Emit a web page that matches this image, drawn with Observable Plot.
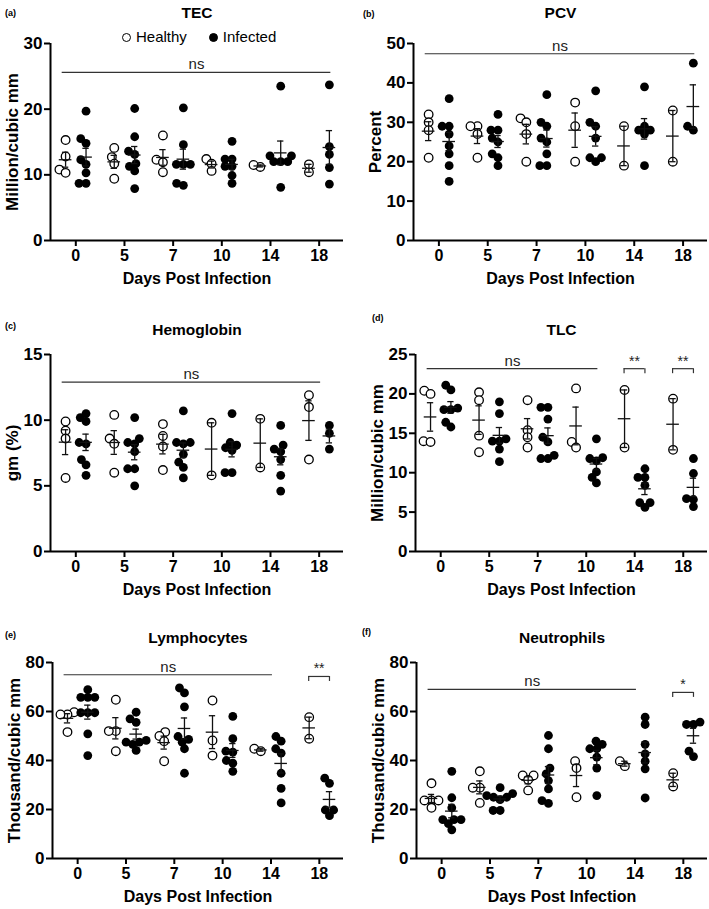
<!DOCTYPE html>
<html>
<head>
<meta charset="utf-8">
<script src="https://cdn.jsdelivr.net/npm/d3@7"></script>
<script src="https://cdn.jsdelivr.net/npm/@observablehq/plot@0.6"></script>
<style>
  html, body { margin: 0; padding: 0; background: #fff; }
  #wrap { position: relative; width: 709px; height: 909px; font-family: "Liberation Sans", Arial, sans-serif; color: #000; }
  .panel { position: absolute; }
  .plabel { position: absolute; font-size: 9px; font-weight: bold; line-height: 12px; }
  .legend { position: absolute; font-size: 15px; line-height: 18px; display: flex; align-items: center; white-space: nowrap; }
  .sym { display: inline-block; width: 7px; height: 7px; border-radius: 50%; border: 1.3px solid #000; box-sizing: content-box; }
</style>
</head>
<body>
<div id="wrap"></div>
<script>
// ---------------- data ----------------
const days = ["0", "5", "7", "10", "14", "18"];
const groups = ["Healthy", "Infected"];

const tecHealthy = [[15.3,12.8,10.8,10.3],[14.1,12.7,11.7,9.4],[16.0,12.3,11.9,10.4],[12.4,11.7,10.6],[11.2,11.5],[10.4,11.6]];
const tecInfected = [[19.7,15.5,14.8,12.3,11.6,10.3,8.7,8.7],[20.1,15.8,13.6,13.1,11.7,11.3,10.6,7.9],[20.2,14.6,11.6,11.6,11.6,8.7,8.4],[15.1,12.4,12.4,11.3,11.3,9.9,8.7],[23.5,12.9,12.9,12.0,12.0,12.0,8.1],[23.7,14.3,13.1,11.1,8.6]];

const pcvHealthy = [[32,30,28,21],[29,29,27,21],[31,30,27,20],[35,29,20],[29,19],[33,20]];
const pcvInfected = [[36,29,29,27,24,22,19,15],[32,28,28,26,25,22,21,19],[37,30,29,26,25,22,19,19],[38,30,29,26,21,21,20],[39,29,28,28,27,19],[45,29,28]];

const hbHealthy = [[9.9,9.2,8.6,5.6],[10.4,8.6,8.2,6.0],[9.7,8.8,8.0,6.2],[9.8,5.8],[10.1,6.4],[11.9,11.0,7.0]];
const hbInfected = [[10.5,10.2,9.9,8.3,8.2,7.0,6.6,5.8],[10.2,8.6,8.3,8.2,7.6,6.3,6.3,5.0],[10.7,8.3,8.3,8.2,7.4,6.8,6.4,5.6],[10.5,8.3,8.1,7.9,7.7,6.0,6.0],[9.6,8.1,7.8,7.6,7.0,5.8,4.6],[9.6,9.0,7.8]];

const tlcHealthy = [[20.4,20.0,14.0,13.9],[20.2,19.2,14.7,12.6],[19.2,15.4,14.5,13.2],[20.7,13.9,13.2],[20.5,13.2],[19.4,12.9]];
const tlcInfected = [[21.1,20.5,18.2,18.0,18.0,16.4,15.8],[19.0,17.5,14.3,14.0,14.0,13.0,11.4],[18.3,18.3,16.8,14.5,13.9,12.2,11.8,11.8],[14.3,11.9,11.8,11.5,10.1,9.4,8.7],[10.5,9.4,9.4,8.4,6.2,6.2,5.6],[11.8,9.9,6.7,6.6,5.7]];

const lymHealthy = [[59.7,58.8,58.8,51.6],[64.8,52.0,52.0,43.8],[51.6,50.0,47.9,39.7],[64.5,48.2,42.0],[44.8,43.8],[57.7,48.9]];
const lymInfected = [[68.9,65.8,65.8,65.8,59.5,59.5,59.5,50.9,42.0],[59.7,57.0,55.6,48.2,47.5,47.5,46.6,44.1],[69.6,67.6,61.9,49.8,48.6,47.5,44.8,34.8],[58.0,48.9,43.8,43.4,40.0,38.9,35.6],[49.8,47.9,44.8,43.0,34.8,28.6,22.7],[32.8,30.7,19.8,19.8,17.5]];

const neuHealthy = [[30.7,23.7,23.7,23.7,20.7],[35.6,28.9,28.9,22.7],[33.9,33.9,32.1,27.8],[39.7,36.9,25.0],[37.7,39.7],[34.8,29.4]];
const neuInfected = [[35.6,24.8,20.7,15.9,15.9,15.9,14.2,11.7],[28.9,26.5,25.7,25.0,25.0,24.0,19.6,19.6],[50.2,44.8,36.9,34.5,31.8,28.4,23.6,22.5],[47.9,46.6,44.8,44.8,41.4,36.9,25.7],[57.7,54.7,46.6,42.7,39.7,36.6,24.7],[55.7,54.7,54.7,43.8,41.6]];

// significance annotations: label, first day/group, last day/group, height (data units)
const sigTEC = [{label: "ns", from: "0", fromG: "Healthy", to: "18", toG: "Infected", y: 25.6}];
const sigPCV = [{label: "ns", from: "0", fromG: "Healthy", to: "18", toG: "Infected", y: 47.4}];
const sigHB  = [{label: "ns", from: "0", fromG: "Healthy", to: "18", toG: "Center", y: 12.9}];
const sigTLC = [{label: "ns", from: "0", fromG: "Healthy", to: "10", toG: "Infected", y: 23.2},
                {label: "**", bracket: true, day: "14", y: 23.2},
                {label: "**", bracket: true, day: "18", y: 23.2}];
const sigLYM = [{label: "ns", from: "0", fromG: "Healthy", to: "14", toG: "Center", y: 75},
                {label: "**", bracket: true, day: "18", y: 74.3}];
const sigNEU = [{label: "ns", from: "0", fromG: "Healthy", to: "14", toG: "Center", y: 69},
                {label: "*", bracket: true, day: "18", y: 67.8}];

// ---------------- layout helpers ----------------
const groupOffset = {Healthy: -0.21, Infected: 0.21, Center: 0};
const xDomain = [-0.52, 5.5];

function swarm(values, pxPerY, d) {
  const order = values.map((v, i) => i).sort((a, b) => values[a] - values[b]);
  const placed = [];
  const out = new Array(values.length);
  for (const i of order) {
    const y = values[i] * pxPerY;
    const forb = [];
    for (const p of placed) {
      const dy = Math.abs(p.y - y);
      if (dy < d) { const w = Math.sqrt(d * d - dy * dy); forb.push([p.x - w, p.x + w]); }
    }
    const cands = [0];
    forb.forEach(([a, b]) => cands.push(a, b));
    cands.sort((a, b) => Math.abs(a) - Math.abs(b) || a - b);
    let x = 0;
    for (const c of cands) {
      if (forb.every(([a, b]) => c <= a + 1e-6 || c >= b - 1e-6)) { x = c; break; }
    }
    placed.push({x, y});
    out[i] = x;
  }
  return out;
}

function makePanel(cfg) {
  const W = 354;
  const {H, mt, mb, ml, mr, ymax, yticks, healthy, infected, sig} = cfg;
  const plotH = H - mt - mb;
  const frameW = W - ml - mr;
  const pxX = frameW / (xDomain[1] - xDomain[0]);
  const pxY = plotH / ymax;
  const pts = [], stats = [];
  [["Healthy", healthy], ["Infected", infected]].forEach(([g, arr]) => {
    arr.forEach((vals, di) => {
      const base = di + groupOffset[g];
      const offs = swarm(vals, pxY, 7);
      vals.forEach((v, k) => pts.push({group: g, x: base + offs[k] / pxX, y: v}));
      const m = d3.mean(vals);
      const sd = vals.length > 1 ? d3.deviation(vals) : 0;
      stats.push({group: g, x: base, mean: m, lo: m - sd / Math.sqrt(vals.length), hi: m + sd / Math.sqrt(vals.length)});
    });
  });
  const lines = [], brackets = [], labels = [];
  const tick = 5 * ymax / plotH;
  sig.forEach(s => {
    if (s.bracket) {
      const i = days.indexOf(s.day);
      const x1 = i - 0.22, x2 = i + 0.21;
      lines.push({x1, x2, y: s.y});
      brackets.push({x: x1, y1: s.y - tick, y2: s.y}, {x: x2, y1: s.y - tick, y2: s.y});
      labels.push({x: (x1 + x2) / 2, y: s.y, label: s.label, star: true});
    } else {
      const x1 = days.indexOf(s.from) + groupOffset[s.fromG] - 0.07;
      const x2 = days.indexOf(s.to) + groupOffset[s.toG] + 0.03;
      lines.push({x1, x2, y: s.y});
      labels.push({x: (x1 + x2) / 2, y: s.y, label: s.label, star: false});
    }
  });

  return Plot.plot({
    width: W, height: H,
    marginTop: mt, marginBottom: mb, marginLeft: ml, marginRight: mr,
    style: {fontFamily: "'Liberation Sans', Arial, sans-serif", color: "#000", background: "#fff", overflow: "visible"},
    x: {domain: xDomain, axis: null},
    y: {domain: [0, ymax], axis: null},
    marks: [
      // significance lines
      Plot.ruleY(lines, {y: "y", x1: "x1", x2: "x2", stroke: "#333", strokeWidth: 1.2}),
      Plot.ruleX(brackets, {x: "x", y1: "y1", y2: "y2", stroke: "#333", strokeWidth: 1.2}),
      Plot.text(labels.filter(d => !d.star), {x: "x", y: "y", text: "label", lineAnchor: "bottom", dy: -3, fontSize: 15, fill: "#222"}),
      Plot.text(labels.filter(d => d.star), {x: "x", y: "y", text: "label", lineAnchor: "bottom", dy: -3, fontSize: 14, fill: "#222"}),
      // points
      Plot.dot(pts.filter(d => d.group === "Healthy"), {x: "x", y: "y", r: 4.3, fill: "#fff", stroke: "#000", strokeWidth: 1.3}),
      Plot.dot(pts.filter(d => d.group === "Infected"), {x: "x", y: "y", r: 4.4, fill: "#000", stroke: "none"}),
      // mean ± SEM
      Plot.ruleX(stats, {x: "x", y1: "lo", y2: "hi", stroke: "#111", strokeWidth: 1.3}),
      Plot.ruleY(stats, {y: "hi", x1: d => d.x - 0.065, x2: d => d.x + 0.065, stroke: "#111", strokeWidth: 1.3}),
      Plot.ruleY(stats, {y: "lo", x1: d => d.x - 0.065, x2: d => d.x + 0.065, stroke: "#111", strokeWidth: 1.3}),
      Plot.ruleY(stats, {y: "mean", x1: d => d.x - 0.13, x2: d => d.x + 0.13, stroke: "#111", strokeWidth: 1.3}),
      // axes
      Plot.axisY({ticks: yticks, tickSize: 6, tickPadding: 2, fontSize: 17, fontWeight: "bold", strokeWidth: 2, label: null}),
      Plot.axisX({ticks: d3.range(days.length), tickFormat: i => days[i], tickSize: 6, tickPadding: 3, fontSize: 16, fontWeight: "bold", strokeWidth: 2, label: null}),
      Plot.ruleX([xDomain[0]], {stroke: "#000", strokeWidth: 2}),
      Plot.ruleY([0], {stroke: "#000", strokeWidth: 2}),
      // titles
      Plot.text([cfg.ylabel], {text: d => d, frameAnchor: "left", dx: -38, rotate: -90, textAnchor: "middle", lineAnchor: "middle", fontSize: 17, fontWeight: "bold"}),
      Plot.text(["Days Post Infection"], {text: d => d, frameAnchor: "bottom", dy: 38, textAnchor: "middle", lineAnchor: "middle", fontSize: 16, fontWeight: "bold"}),
      Plot.text([cfg.title], {text: d => d, frameAnchor: "top", dy: cfg.titleDy, textAnchor: "middle", lineAnchor: "middle", fontSize: 15.5, fontWeight: "bold"})
    ]
  });
}

const panels = [
  {id: "(a)", title: "TEC", ylabel: "Million/cubic mm", healthy: tecHealthy, infected: tecInfected, sig: sigTEC,
   ymax: 30, yticks: [0, 10, 20, 30], left: 0, top: 0, H: 300, mt: 43, mb: 60, ml: 50, mr: 11, titleDy: -30, lab: [5, 7]},
  {id: "(b)", title: "PCV", ylabel: "Percent", healthy: pcvHealthy, infected: pcvInfected, sig: sigPCV,
   ymax: 50, yticks: [0, 10, 20, 30, 40, 50], left: 355, top: 0, H: 300, mt: 43, mb: 60, ml: 58, mr: 2, titleDy: -30, lab: [363, 8]},
  {id: "(c)", title: "Hemoglobin", ylabel: "gm (%)", healthy: hbHealthy, infected: hbInfected, sig: sigHB,
   ymax: 15, yticks: [0, 5, 10, 15], left: 0, top: 300, H: 300, mt: 54, mb: 49, ml: 50, mr: 11, titleDy: -24, lab: [5, 320]},
  {id: "(d)", title: "TLC", ylabel: "Million/cubic mm", healthy: tlcHealthy, infected: tlcInfected, sig: sigTLC,
   ymax: 25, yticks: [0, 5, 10, 15, 20, 25], left: 355, top: 300, H: 300, mt: 54, mb: 49, ml: 60, mr: 2, titleDy: -24, lab: [372, 312]},
  {id: "(e)", title: "Lymphocytes", ylabel: "Thousand/cubic mm", healthy: lymHealthy, infected: lymInfected, sig: sigLYM,
   ymax: 80, yticks: [0, 20, 40, 60, 80], left: 0, top: 600, H: 309, mt: 62, mb: 51, ml: 52, mr: 11, titleDy: -24, lab: [5, 629]},
  {id: "(f)", title: "Neutrophils", ylabel: "Thousand/cubic mm", healthy: neuHealthy, infected: neuInfected, sig: sigNEU,
   ymax: 80, yticks: [0, 20, 40, 60, 80], left: 355, top: 600, H: 309, mt: 62, mb: 51, ml: 61, mr: 2, titleDy: -24, lab: [362, 626]}
];

const wrap = document.getElementById("wrap");
panels.forEach(cfg => {
  const div = document.createElement("div");
  div.className = "panel";
  div.style.left = cfg.left + "px";
  div.style.top = cfg.top + "px";
  div.appendChild(makePanel(cfg));
  wrap.appendChild(div);
  const lab = document.createElement("div");
  lab.className = "plabel";
  lab.textContent = cfg.id;
  lab.style.left = cfg.lab[0] + "px";
  lab.style.top = cfg.lab[1] + "px";
  wrap.appendChild(lab);
});

// legend (panel a)
const legend = document.createElement("div");
legend.className = "legend";
legend.style.left = "122px";
legend.style.top = "28px";
groups.forEach((g, i) => {
  const sym = document.createElement("span");
  sym.className = "sym";
  sym.style.background = g === "Healthy" ? "#fff" : "#000";
  sym.style.marginLeft = i === 0 ? "0px" : "22px";
  sym.style.marginRight = "5px";
  const t = document.createElement("span");
  t.textContent = g;
  legend.appendChild(sym);
  legend.appendChild(t);
});
wrap.appendChild(legend);
</script>
</body>
</html>
